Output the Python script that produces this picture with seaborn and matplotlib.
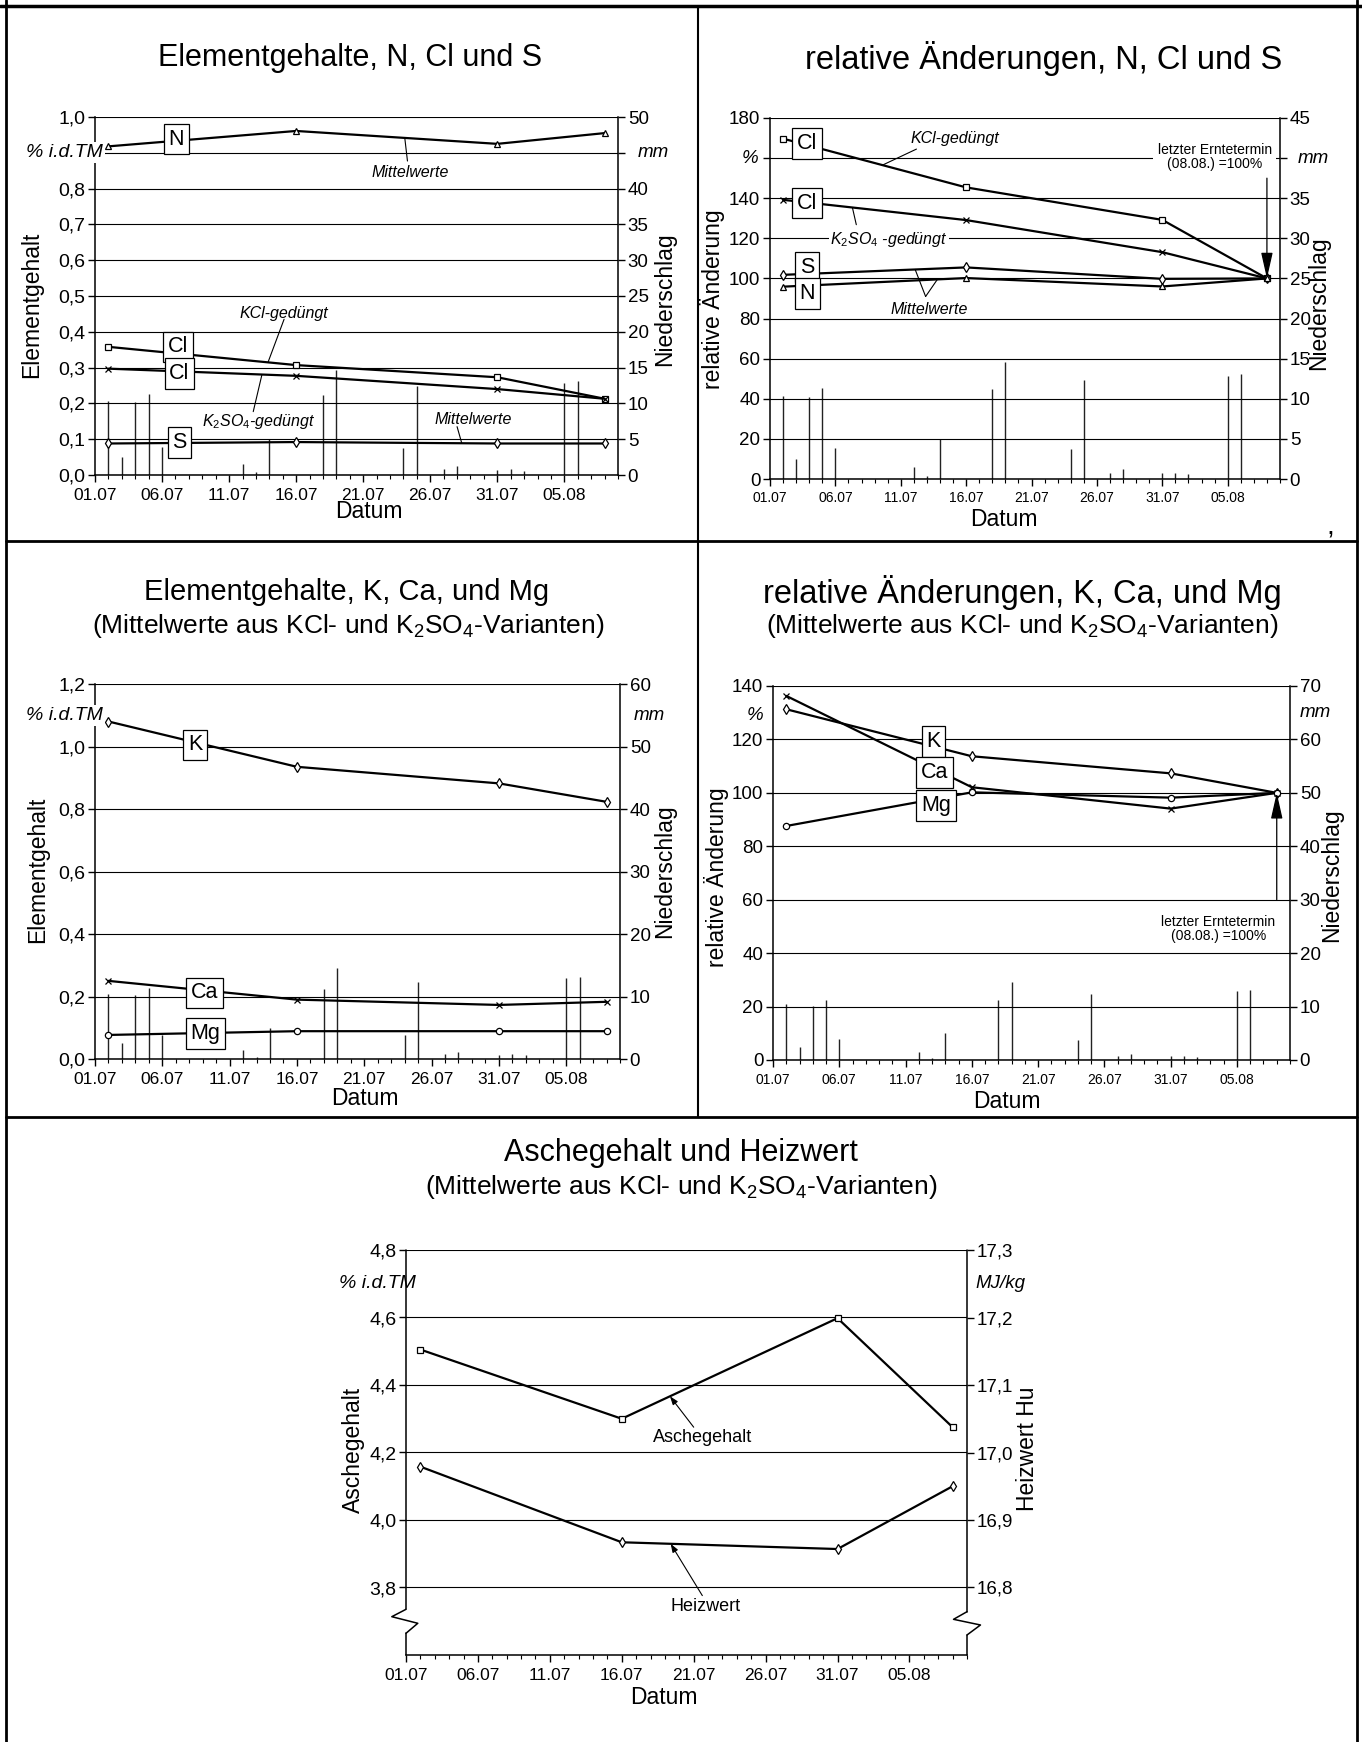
"""Erntezeitreihen: Elementgehalte, relative Aenderungen, Asche und Heizwert."""
import matplotlib

matplotlib.use("Agg")
import matplotlib.pyplot as plt
import matplotlib.transforms as mtransforms
import numpy as np
import seaborn as sns
from matplotlib import font_manager
from matplotlib.lines import Line2D
from matplotlib.ticker import FixedFormatter, FixedLocator, FuncFormatter, MultipleLocator

# day numbers, 1 = 01.07.
harvest_days = [2, 16, 31, 39]
rain_days = [2, 3, 4, 5, 6, 12, 13, 14, 18, 19, 24, 25, 27, 28, 31, 32, 33, 36, 37]
rain_mm = [10.4, 2.5, 10.2, 11.3, 3.9, 1.5, 0.4, 5.0, 11.2, 14.6, 3.8, 12.4,
           0.8, 1.2, 0.7, 0.8, 0.6, 12.9, 13.1]

date_ticks = [1, 6, 11, 16, 21, 26, 31, 36]
date_labels = ["01.07", "06.07", "11.07", "16.07", "21.07", "26.07", "31.07", "05.08"]

# element contents, % i.d.TM
n_mean = [0.918, 0.961, 0.925, 0.955]
cl_kcl = [0.358, 0.307, 0.273, 0.213]
cl_k2so4 = [0.297, 0.277, 0.240, 0.213]
s_mean = [0.088, 0.092, 0.088, 0.088]
k_mean = [1.080, 0.935, 0.882, 0.823]
ca_mean = [0.250, 0.190, 0.173, 0.183]
mg_mean = [0.077, 0.089, 0.089, 0.089]

# relative changes, last harvest (08.08.) = 100 %
cl_kcl_rel = [169.7, 145.4, 129.2, 100]
cl_k2so4_rel = [139.2, 129.1, 113.1, 100]
s_rel = [101.8, 105.5, 99.8, 100]
n_rel = [95.9, 100.2, 96.0, 100]
k_rel = [131.3, 113.7, 107.3, 100]
ca_rel = [136.3, 102.1, 94.1, 100]
mg_rel = [87.6, 100.2, 98.2, 100]

# ash content (%) and heating value (MJ/kg)
ash = [4.505, 4.300, 4.598, 4.275]
heating_value = [16.979, 16.867, 16.857, 16.950]

sns.set_theme(style="ticks")
plt.rcParams["font.family"] = ["Liberation Sans", "DejaVu Sans"]
plt.rcParams.update({
    "mathtext.fontset": "custom",
    "mathtext.rm": "Liberation Sans",
    "mathtext.it": "Liberation Sans:italic",
    "axes.edgecolor": "black",
    "axes.linewidth": 1.1,
    "xtick.color": "black",
    "ytick.color": "black",
    "text.color": "black",
    "axes.labelcolor": "black",
})
installed = {f.name for f in font_manager.fontManager.ttflist}
NARROW = "Liberation Sans Narrow" if "Liberation Sans Narrow" in installed else "Liberation Sans"
REGULAR = "Liberation Sans"

W, H = 1362, 1742
fig = plt.figure(figsize=(W / 100, H / 100), dpi=100)


def px_axes(left, top, right, bottom):
    return fig.add_axes([left / W, 1 - bottom / H, (right - left) / W, (bottom - top) / H])


def de_fmt(decimals, hide=None):
    def fmt(v, _pos):
        if hide is not None and abs(v - hide) < 1e-6:
            return ""
        return f"{v:.{decimals}f}".replace(".", ",")
    return FuncFormatter(fmt)


def base_axes(box, ylim, yticks, decimals, hide=None, xsize=12.5, family=REGULAR, ysize=14):
    ax = px_axes(*box)
    ax.set_xlim(1, 40)
    ax.set_ylim(*ylim)
    ax.xaxis.set_major_locator(FixedLocator(date_ticks))
    ax.xaxis.set_major_formatter(FixedFormatter(date_labels))
    ax.xaxis.set_minor_locator(MultipleLocator(1))
    ax.yaxis.set_major_locator(FixedLocator(yticks))
    ax.yaxis.set_major_formatter(de_fmt(decimals, hide))
    ax.grid(axis="y", color="black", lw=0.8)
    ax.set_axisbelow(True)
    ax.tick_params(axis="y", direction="out", length=5, width=1, labelsize=ysize, pad=2,
                   labelfontfamily=family)
    ax.tick_params(axis="x", which="major", direction="out", length=5, width=1,
                   labelsize=xsize, pad=4, labelfontfamily=family)
    ax.tick_params(axis="x", which="minor", direction="out", length=3, width=0.8)
    ax.spines["top"].set_visible(False)
    return ax


def rain_axis(ax, ymax, ystep, hide=None, ysize=13.5, family=REGULAR):
    ax2 = ax.twinx()
    ax2.vlines(rain_days, 0, rain_mm, color="#222222", lw=1.0)
    ax2.set_ylim(0, ymax)
    ax2.yaxis.set_major_locator(MultipleLocator(ystep))
    ax2.yaxis.set_major_formatter(de_fmt(0, hide))
    ax2.tick_params(axis="y", direction="out", length=5, width=1, labelsize=ysize, pad=2,
                    labelfontfamily=family)
    for side in ("top", "left", "bottom"):
        ax2.spines[side].set_visible(False)
    ax.set_zorder(ax2.get_zorder() + 1)
    ax.patch.set_visible(False)
    ax.spines["right"].set_visible(False)
    return ax2


def labels(ax, ax2, ylab, ycoord, rlab, rcoord, xcoord):
    ax.set_xlabel("Datum", fontsize=16.5, va="center")
    ax.xaxis.set_label_coords(*xcoord)
    ax.set_ylabel(ylab, fontsize=16.5, va="center")
    ax.yaxis.set_label_coords(*ycoord)
    ax2.set_ylabel(rlab, fontsize=16.5, va="center", rotation=90)
    ax2.yaxis.set_label_coords(*rcoord)


def series(ax, y, marker, size=5):
    sns.lineplot(x=harvest_days, y=y, ax=ax, color="black", lw=1.6, marker=marker,
                 markersize=size, markerfacecolor="white", markeredgecolor="black",
                 markeredgewidth=0.9, legend=False, errorbar=None, zorder=4)


def box_label(ax, x, y, s):
    ax.text(x, y, s, ha="center", va="center", fontsize=15.5, zorder=6,
            bbox=dict(boxstyle="square,pad=0.22", fc="white", ec="black", lw=0.9))


def note(ax, x, y, s, size=11.5, style="italic", bg=False, **kw):
    bbox = dict(fc="white", ec="none", pad=1) if bg else None
    ax.text(x, y, s, ha="center", va="center", fontsize=size, style=style,
            zorder=6, bbox=bbox, **kw)


def leader(ax, xt, yt, xl, ys, head=False):
    yl = np.interp(xl, harvest_days, ys)
    style = "-|>,head_length=0.5,head_width=0.18" if head else "-"
    ax.annotate("", xy=(xl, yl), xytext=(xt, yt), zorder=5,
                arrowprops=dict(arrowstyle=style, color="black", lw=0.8,
                                shrinkA=0, shrinkB=0, mutation_scale=10))


def unit_text(ax, y, s, side, dx, size=14):
    trans = mtransforms.offset_copy(ax.get_yaxis_transform(), fig=fig, x=dx, y=0, units="dots")
    ax.text(1 if side == "right" else 0, y, s, transform=trans,
            ha="left" if side == "right" else "right", va="center", fontsize=size,
            style="italic", zorder=7, bbox=dict(fc="white", ec="none", pad=1.5))


def big_arrow(ax, x, y0, y1):
    ax.annotate("", xy=(x, y1), xytext=(x, y0), zorder=5,
                arrowprops=dict(arrowstyle="-|>,head_length=1.6,head_width=0.36",
                                color="black", lw=0.9, shrinkA=0, shrinkB=0, mutation_scale=10))


def frame_line(x0, y0, x1, y1, lw=2.0):
    fig.add_artist(Line2D([x0 / W, x1 / W], [1 - y0 / H, 1 - y1 / H], color="black", lw=lw))


# ---------- panel 1: Elementgehalte N, Cl, S ----------
ax1 = base_axes((95, 117, 618, 475), (0, 1.0), np.round(np.arange(0, 1.01, 0.1), 1), 1, hide=0.9)
ax1r = rain_axis(ax1, 50, 5, hide=45)
series(ax1, n_mean, "^")
series(ax1, cl_kcl, "s")
series(ax1, cl_k2so4, "x")
series(ax1, s_mean, "d")
labels(ax1, ax1r, "Elementgehalt", (-0.122, 0.475), "Niederschlag", (1.09, 0.49), (0.524, -0.1025))
unit_text(ax1, 0.9, "% i.d.TM", "left", 8)
unit_text(ax1, 0.9, "mm", "right", 20, size=13.5)
box_label(ax1, 7.05, 0.938, "N")
box_label(ax1, 7.2, 0.358, "Cl")
box_label(ax1, 7.3, 0.284, "Cl")
box_label(ax1, 7.3, 0.091, "S")
note(ax1, 24.5, 0.845, "Mittelwerte")
leader(ax1, 24.3, 0.877, 24.1, n_mean)
note(ax1, 15.1, 0.450, "KCl-gedüngt")
leader(ax1, 15.1, 0.435, 13.9, cl_kcl)
note(ax1, 13.2, 0.149, "K$_2$SO$_4$-gedüngt")
leader(ax1, 12.8, 0.177, 13.45, cl_k2so4)
note(ax1, 29.2, 0.154, "Mittelwerte")
leader(ax1, 28.0, 0.135, 28.35, s_mean)

# ---------- panel 2: relative Aenderungen N, Cl, S ----------
ax2 = base_axes((770, 118, 1280, 479), (0, 180), np.arange(0, 181, 20), 0, hide=160,
                xsize=10, family=NARROW, ysize=13.5)
ax2r = rain_axis(ax2, 45, 5, hide=40, ysize=13.5, family=NARROW)
series(ax2, cl_kcl_rel, "s")
series(ax2, cl_k2so4_rel, "x")
series(ax2, s_rel, "d")
series(ax2, n_rel, "^")
labels(ax2, ax2r, "relative Änderung", (-0.112, 0.497), "Niederschlag", (1.076, 0.486), (0.458, -0.113))
unit_text(ax2, 160, "%", "left", -12, size=13.5)
unit_text(ax2, 160, "mm", "right", 18, size=13.5)
box_label(ax2, 3.85, 167.2, "Cl")
box_label(ax2, 3.85, 137.6, "Cl")
box_label(ax2, 3.85, 105.7, "S")
box_label(ax2, 3.85, 92.4, "N")
note(ax2, 15.1, 170.0, "KCl-gedüngt")
leader(ax2, 12.2, 164.5, 9.6, cl_kcl_rel)
note(ax2, 10.1, 119.3, "K$_2$SO$_4$ -gedüngt", bg=True)
leader(ax2, 7.6, 126.8, 7.3, cl_k2so4_rel)
note(ax2, 13.2, 84.4, "Mittelwerte")
leader(ax2, 12.9, 91.0, 12.1, s_rel)
leader(ax2, 12.9, 91.0, 13.8, n_rel)
ax2.text(35.0, 160.5, "letzter Erntetermin\n(08.08.) =100%", ha="center", va="center",
         fontsize=10, family=NARROW, linespacing=1.0, zorder=6,
         bbox=dict(fc="white", ec="none", pad=3))
big_arrow(ax2, 39, 150, 100)

# ---------- panel 3: Elementgehalte K, Ca, Mg ----------
ax3 = base_axes((95, 684, 620, 1059), (0, 1.2), np.round(np.arange(0, 1.21, 0.2), 1), 1)
ax3r = rain_axis(ax3, 60, 10)
series(ax3, k_mean, "d")
series(ax3, ca_mean, "x")
series(ax3, mg_mean, "o", size=4.5)
labels(ax3, ax3r, "Elementgehalt", (-0.109, 0.504), "Niederschlag", (1.085, 0.5), (0.514, -0.105))
unit_text(ax3, 1.1, "% i.d.TM", "left", 8)
unit_text(ax3, 1.1, "mm", "right", 14, size=13.5)
box_label(ax3, 8.44, 1.005, "K")
box_label(ax3, 9.15, 0.212, "Ca")
box_label(ax3, 9.2, 0.082, "Mg")

# ---------- panel 4: relative Aenderungen K, Ca, Mg ----------
ax4 = base_axes((773, 686, 1290, 1060), (0, 140), np.arange(0, 141, 20), 0,
                xsize=10, family=NARROW, ysize=13.5)
ax4r = rain_axis(ax4, 70, 10, ysize=13.5, family=NARROW)
series(ax4, k_rel, "d")
series(ax4, ca_rel, "x")
series(ax4, mg_rel, "o", size=4.5)
labels(ax4, ax4r, "relative Änderung", (-0.11, 0.49), "Niederschlag", (1.08, 0.495), (0.453, -0.111))
unit_text(ax4, 129, "%", "left", -10, size=13.5)
unit_text(ax4, 130, "mm", "right", 10, size=13.5)
box_label(ax4, 13.1, 119.2, "K")
box_label(ax4, 13.2, 107.6, "Ca")
box_label(ax4, 13.3, 95.3, "Mg")
ax4.text(34.6, 49.0, "letzter Erntetermin\n(08.08.) =100%", ha="center", va="center",
         fontsize=10, family=NARROW, linespacing=1.0, zorder=6)
big_arrow(ax4, 39, 60, 100)

# ---------- panel 5: Aschegehalt und Heizwert ----------
ax5 = base_axes((406, 1250, 967, 1655), (3.6, 4.8), np.round(np.arange(3.8, 4.81, 0.2), 1), 1)
ax5b = ax5.twinx()
ax5b.set_ylim(16.7, 17.3)
ax5b.yaxis.set_major_locator(FixedLocator(np.round(np.arange(16.8, 17.31, 0.1), 1)))
ax5b.yaxis.set_major_formatter(de_fmt(1))
ax5b.tick_params(axis="y", direction="out", length=5, width=1, labelsize=13.5, pad=2)
for side in ("top", "left", "bottom", "right"):
    ax5b.spines[side].set_visible(False)
ax5.spines["left"].set_visible(False)
ax5.spines["right"].set_visible(False)
ax5.set_zorder(ax5b.get_zorder() + 1)
ax5.patch.set_visible(False)
series(ax5, ash, "s")
series(ax5b, heating_value, "d")
labels(ax5, ax5b, "Aschegehalt", (-0.094, 0.507), "Heizwert Hu", (1.107, 0.51), (0.46, -0.104))
unit_text(ax5, 4.7, "% i.d.TM", "left", 10)
unit_text(ax5, 4.7, "MJ/kg", "right", 8, size=13.5)
note(ax5, 21.6, 4.245, "Aschegehalt", size=13, style="normal")
leader(ax5, 21.0, 4.275, 19.35, ash, head=True)
note(ax5b, 21.8, 16.7725, "Heizwert", size=13, style="normal")
leader(ax5b, 21.6, 16.788, 19.4, heating_value, head=True)

# broken value axes (zig-zag marks)
spine_kw = dict(transform=ax5.transAxes, color="black", lw=1.1, clip_on=False, zorder=8)
ax5.plot([0, 0], [0, 0.0536], **spine_kw)
ax5.plot([0, 0], [0.1128, 1], **spine_kw)
ax5.plot([0, -0.0253, 0.021, 0], [0.1128, 0.0946, 0.0783, 0.0536], **spine_kw)
ax5.plot([1, 1], [0, 0.0494], **spine_kw)
ax5.plot([1, 1], [0.1069, 1], **spine_kw)
ax5.plot([1, 0.976, 1.024, 1], [0.1069, 0.0881, 0.0741, 0.0494], **spine_kw)

# ---------- titles ----------
sub_kw = dict(ha="center", va="center", fontsize=19)
fig.text(350 / W, 1 - 58 / H, "Elementgehalte, N, Cl und S", ha="center", va="center", fontsize=22)
fig.text(1044 / W, 1 - 58 / H, "relative Änderungen, N, Cl und S", ha="center", va="center", fontsize=23.5)
fig.text(347 / W, 1 - 592 / H, "Elementgehalte, K, Ca, und Mg", ha="center", va="center", fontsize=21)
fig.text(348 / W, 1 - 626 / H, "(Mittelwerte aus KCl- und K$_2$SO$_4$-Varianten)", **sub_kw)
fig.text(1022 / W, 1 - 592 / H, "relative Änderungen, K, Ca, und Mg", ha="center", va="center", fontsize=23.5)
fig.text(1022 / W, 1 - 626 / H, "(Mittelwerte aus KCl- und K$_2$SO$_4$-Varianten)", **sub_kw)
fig.text(681 / W, 1 - 1153 / H, "Aschegehalt und Heizwert", ha="center", va="center", fontsize=22)
fig.text(681 / W, 1 - 1187 / H, "(Mittelwerte aus KCl- und K$_2$SO$_4$-Varianten)", **sub_kw)
fig.text(1330 / W, 1 - 528 / H, ",", ha="center", va="center", fontsize=20)

# ---------- panel frame ----------
frame_line(6, 0, 6, H)
frame_line(1357, 0, 1357, H)
frame_line(0, 6, W, 6, lw=2.5)
frame_line(698, 6, 698, 1117, lw=1.5)
frame_line(6, 541, 1357, 541)
frame_line(6, 1117, 1357, 1117)

fig.savefig("out.png", dpi=100)
plt.close(fig)
